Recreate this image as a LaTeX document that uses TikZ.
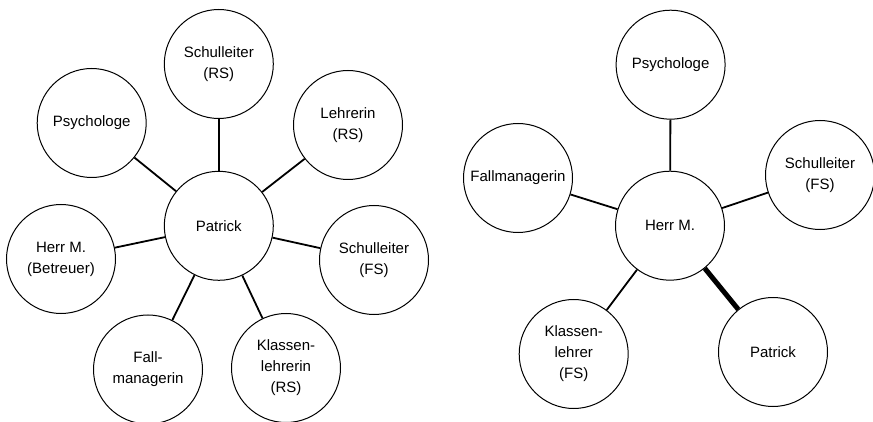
\documentclass[tikz,border=0pt]{standalone}
\usepackage{fontspec}
\setmainfont{Liberation Sans}
\tikzset{
  persona/.style={circle, draw, line width=1pt, minimum size=109pt, inner sep=0pt,
    align=center, font=\fontsize{15}{21}\selectfont},
  enlace/.style={line width=1.8pt},
  enlacefuerte/.style={line width=5pt}
}
\begin{document}
\begin{tikzpicture}[x=1pt, y=-1pt]
        \useasboundingbox (0,0) rectangle (873,422);

        % Red de Patrick
        \node[persona] (patrick) at (218.8,225.8) {Patrick};
        \node[persona] (schulleiterRS) at (218.8,64) {Schulleiter\\(RS)};
        \node[persona] (lehrerinRS) at (348,125) {Lehrerin\\(RS)};
        \node[persona] (psychologeL) at (91.7,123) {Psychologe};
        \node[persona] (betreuer) at (61,259) {Herr M.\\(Betreuer)};
        \node[persona] (schulleiterFSL) at (374,260) {Schulleiter\\(FS)};
        \node[persona] (fallL) at (148,369.5) {Fall-\\managerin};
        \node[persona] (klassenRS) at (286,368) {Klassen-\\lehrerin\\(RS)};

        \foreach \n in {schulleiterRS,lehrerinRS,psychologeL,betreuer,schulleiterFSL,fallL,klassenRS}
          \draw[enlace] (patrick) -- (\n);

        % Red de Herr M.
        \node[persona] (herrM) at (670,225.7) {Herr M.};
        \node[persona] (psychologeR) at (670.6,64.7) {Psychologe};
        \node[persona] (fallR) at (518,178) {Fallmanagerin};
        \node[persona] (schulleiterFSR) at (820,175) {Schulleiter\\(FS)};
        \node[persona] (klassenFS) at (573.7,354) {Klassen-\\lehrer\\(FS)};
        \node[persona] (patrickR) at (773,352) {Patrick};

        \foreach \n in {psychologeR,fallR,schulleiterFSR,klassenFS}
          \draw[enlace] (herrM) -- (\n);
        \draw[enlacefuerte] (herrM) -- (patrickR);
    \end{tikzpicture}
\end{document}
